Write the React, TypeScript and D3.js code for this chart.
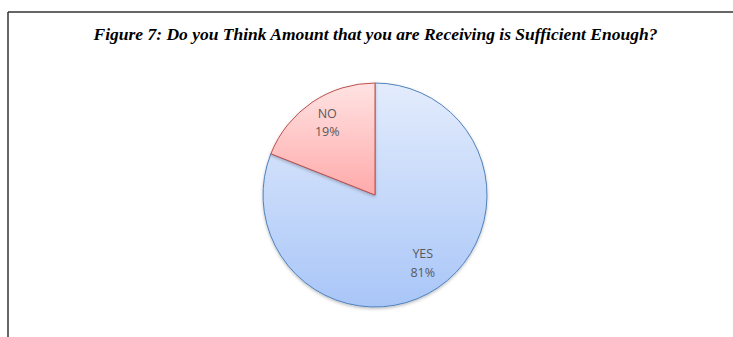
import React from "react";
import * as d3 from "d3";

const categories = ["YES", "NO"];
const values = [81, 19];
const percentLabels = ["81%", "19%"];

const W = 733;
const H = 337;

export default function App() {
  const cx = 375;
  const cy = 195;
  const R = 112;
  const pie = d3.pie<number>().sort(null).value((d) => d);
  const arcs = pie(values);
  const arcGen = d3.arc<d3.PieArcDatum<number>>().innerRadius(0).outerRadius(R);
  const labelArc = d3.arc<d3.PieArcDatum<number>>().innerRadius(85).outerRadius(85);
  const fills = ["url(#gBlue)", "url(#gRed)"];
  const strokes = ["#4f81bd", "#c0504d"];
  return (
    <svg width={W} height={H} style={{ position: "absolute", left: 0, top: 0 }}>
      <defs>
        <linearGradient id="gBlue" gradientUnits="userSpaceOnUse" x1={0} y1={-R} x2={0} y2={R}>
          <stop offset="0" stopColor="#e3ecfc" />
          <stop offset="1" stopColor="#a9c6f8" />
        </linearGradient>
        <linearGradient id="gRed" gradientUnits="userSpaceOnUse" x1={0} y1={-R} x2={0} y2={0}>
          <stop offset="0" stopColor="#ffe3e3" />
          <stop offset="1" stopColor="#ffaaaa" />
        </linearGradient>
        <filter id="shadow" x="-20%" y="-20%" width="140%" height="140%">
          <feDropShadow dx="0" dy="1.5" stdDeviation="1.5" floodColor="#000" floodOpacity="0.25" />
        </filter>
      </defs>
      <rect x={0} y={0} width={W} height={H} fill="#fff" />
      <line x1={8} y1={12} x2={W} y2={12} stroke="#333" strokeWidth={1.5} />
      <line x1={8} y1={12} x2={8} y2={H} stroke="#333" strokeWidth={1.5} />
      <text
        x={375.5}
        y={40}
        textAnchor="middle"
        fontFamily="'Liberation Serif', 'Times New Roman', serif"
        fontWeight="bold"
        fontStyle="italic"
        fontSize={17.5}
        fill="#000"
      >
        Figure 7: Do you Think Amount that you are Receiving is Sufficient Enough?
      </text>
      <g transform={`translate(${cx},${cy})`}>
        {arcs.map((a, i) => (
          <path key={categories[i]} d={arcGen(a) || ""} fill={fills[i]} stroke={strokes[i]} strokeWidth={1} filter="url(#shadow)" />
        ))}
        {arcs.map((a, i) => {
          const [x, y] = labelArc.centroid(a);
          return (
            <text key={"l" + categories[i]} x={x} y={y} textAnchor="middle" fontFamily="'Open Sans', 'Noto Sans', sans-serif" fontSize={12.5} fill="#595959">
              <tspan x={x} dy={-7}>{categories[i]}</tspan>
              <tspan x={x} dy={18.5}>{percentLabels[i]}</tspan>
            </text>
          );
        })}
      </g>
    </svg>
  );
}
